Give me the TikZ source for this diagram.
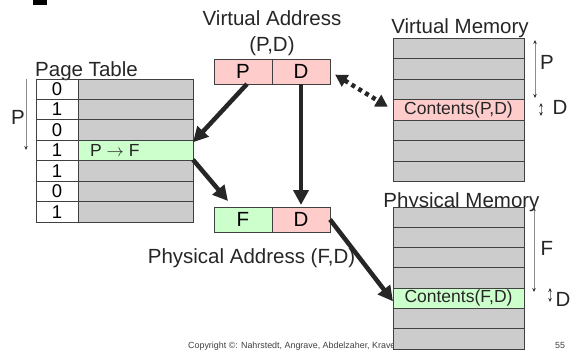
\documentclass[tikz,border=0pt]{standalone}
\usepackage{fontspec}
\setmainfont{Liberation Sans}
\usetikzlibrary{positioning,arrows.meta}
\definecolor{cellgrey}{HTML}{CCCCCC}
\definecolor{addrpink}{HTML}{FFCCCC}
\definecolor{addrgreen}{HTML}{CCFFCC}
\definecolor{edgegrey}{HTML}{404040}

\begin{document}
\begin{tikzpicture}[x=1pt, y=-1pt,
    cell/.style={draw=edgegrey, line width=0.8pt, rectangle, inner sep=0pt, outer sep=0pt, minimum height=20.4pt, font=\fontsize{18.5}{18.5}\selectfont},
    addr/.style={cell, minimum width=58pt, minimum height=25pt, font=\fontsize{20.5}{20.5}\selectfont},
    lbl/.style={inner sep=0pt, font=\fontsize{20.5}{22}\selectfont, text=black!85},
    memtext/.style={inner sep=0pt, font=\fontsize{17.5}{17.5}\selectfont, text=black!85},
    bigarrow/.style={line width=4.5pt, draw=black!85, -{Triangle[length=15pt,width=15pt]}},
    dimarrow/.style={line width=0.8pt, draw=black!45, {Stealth[length=4pt,width=3.5pt,black!80]}-{Stealth[length=4pt,width=3.5pt,black!80]}}]
    \useasboundingbox (0,0) rectangle (578,353);
    \fill[black] (33,0) rectangle (47,5);

    \node[lbl, anchor=base west] (pttitle) at (35,76) {Page Table};
    \foreach \v/\c [count=\i from 0] in {0/cellgrey,1/cellgrey,0/cellgrey,1/addrgreen,1/cellgrey,0/cellgrey,1/cellgrey} {
        \node[cell, minimum width=42pt, anchor=north west] (d\i) at (36,{79+20.43*\i}) {\v};
        \node[cell, fill=\c, minimum width=115pt, right=0pt of d\i] (e\i) {};
    }
    \node[memtext, anchor=west] (ptf) at ([xshift=12pt]e3.west) {P $\rightarrow$ F};
    \node[lbl] (ptp) at (18,117) {P};
    \coordinate (pttop) at (26,79);
    \coordinate (ptbot) at (26,150);
    \draw[line width=0.8pt, draw=black!45, -{Stealth[length=4pt,width=3.5pt,black!80]}] (pttop) -- (ptbot);

    \node[lbl, anchor=base] (vatitle) at (272,26) {Virtual Address};
    \node[lbl, anchor=base] (vapd) at (272,52) {(P,D)};
    \node[addr, fill=addrpink] (vp) at (243,71.5) {P};
    \node[addr, fill=addrpink, right=0pt of vp] (vd) {D};

    \node[addr, fill=addrgreen] (pf) at (243,219.5) {F};
    \node[addr, fill=addrpink, right=0pt of pf] (pd) {D};
    \node[lbl, anchor=base] (patitle) at (251.5,263) {Physical Address (F,D)};

    \node[lbl, anchor=base] (vmtitle) at (460,34) {Virtual Memory};
    \foreach \c [count=\i from 0] in {cellgrey,cellgrey,cellgrey,addrpink,cellgrey,cellgrey,cellgrey}
        \node[cell, fill=\c, minimum width=131pt, anchor=north west] (v\i) at (393,{38+20.57*\i}) {};
    \node[memtext] (vmc) at (v3) {Contents(P,D)};
    \coordinate (vptop) at (535,40);
    \coordinate (vpbot) at (535,98);
    \coordinate (vdtop) at (541,103);
    \coordinate (vdbot) at (541,116);
    \draw[dimarrow] (vptop) -- (vpbot);
    \draw[dimarrow] (vdtop) -- (vdbot);
    \node[lbl] (vmp) at (547,62) {P};
    \node[lbl] (vmd) at (560,107) {D};

    \node[inner sep=0pt, anchor=base west, font=\fontsize{8.9}{9}\selectfont, text=black!75] (copy) at (188,348) {Copyright ©: Nahrstedt, Angrave, Abdelzaher, Kravets};
    \node[inner sep=0pt, anchor=base, font=\fontsize{8.9}{9}\selectfont, text=black!75] (pgno) at (560,348) {55};

    \node[lbl, anchor=base] (pmtitle) at (461.5,207) {Physical Memory};
    \foreach \c [count=\i from 0] in {cellgrey,cellgrey,cellgrey,cellgrey,addrgreen,cellgrey,cellgrey}
        \node[cell, fill=\c, minimum width=131pt, anchor=north west] (p\i) at (393,{207+20.29*\i}) {};
    \node[memtext] (pmc) at (p4) {Contents(F,D)};
    \coordinate (pftop) at (534,207);
    \coordinate (pfbot) at (534,292);
    \coordinate (pdtop) at (550,288);
    \coordinate (pdbot) at (550,302);
    \draw[dimarrow] (pftop) -- (pfbot);
    \draw[dimarrow] (pdtop) -- (pdbot);
    \node[lbl] (pmf) at (547,248) {F};
    \node[lbl] (pmd) at (563,299) {D};

    \draw[bigarrow] ([xshift=4pt]vp.south) -- ([yshift=-2pt]e3.north east);
    \draw[bigarrow] ([yshift=1pt]e3.south east) -- ([xshift=14pt,yshift=6pt]pf.north west);
    \draw[bigarrow, shorten >=2pt] (vd.south) -- (pd.north);
    \draw[line width=4.5pt, draw=black!85, dash pattern=on 4pt off 4pt, {Triangle[length=12pt,width=13pt]}-{Triangle[length=12pt,width=13pt]}, shorten <=6pt, shorten >=6pt] (vd.east) -- (v3.west);
    \draw[bigarrow] (pd.east) -- ([yshift=-3pt]p4.west);
\end{tikzpicture}
\end{document}
